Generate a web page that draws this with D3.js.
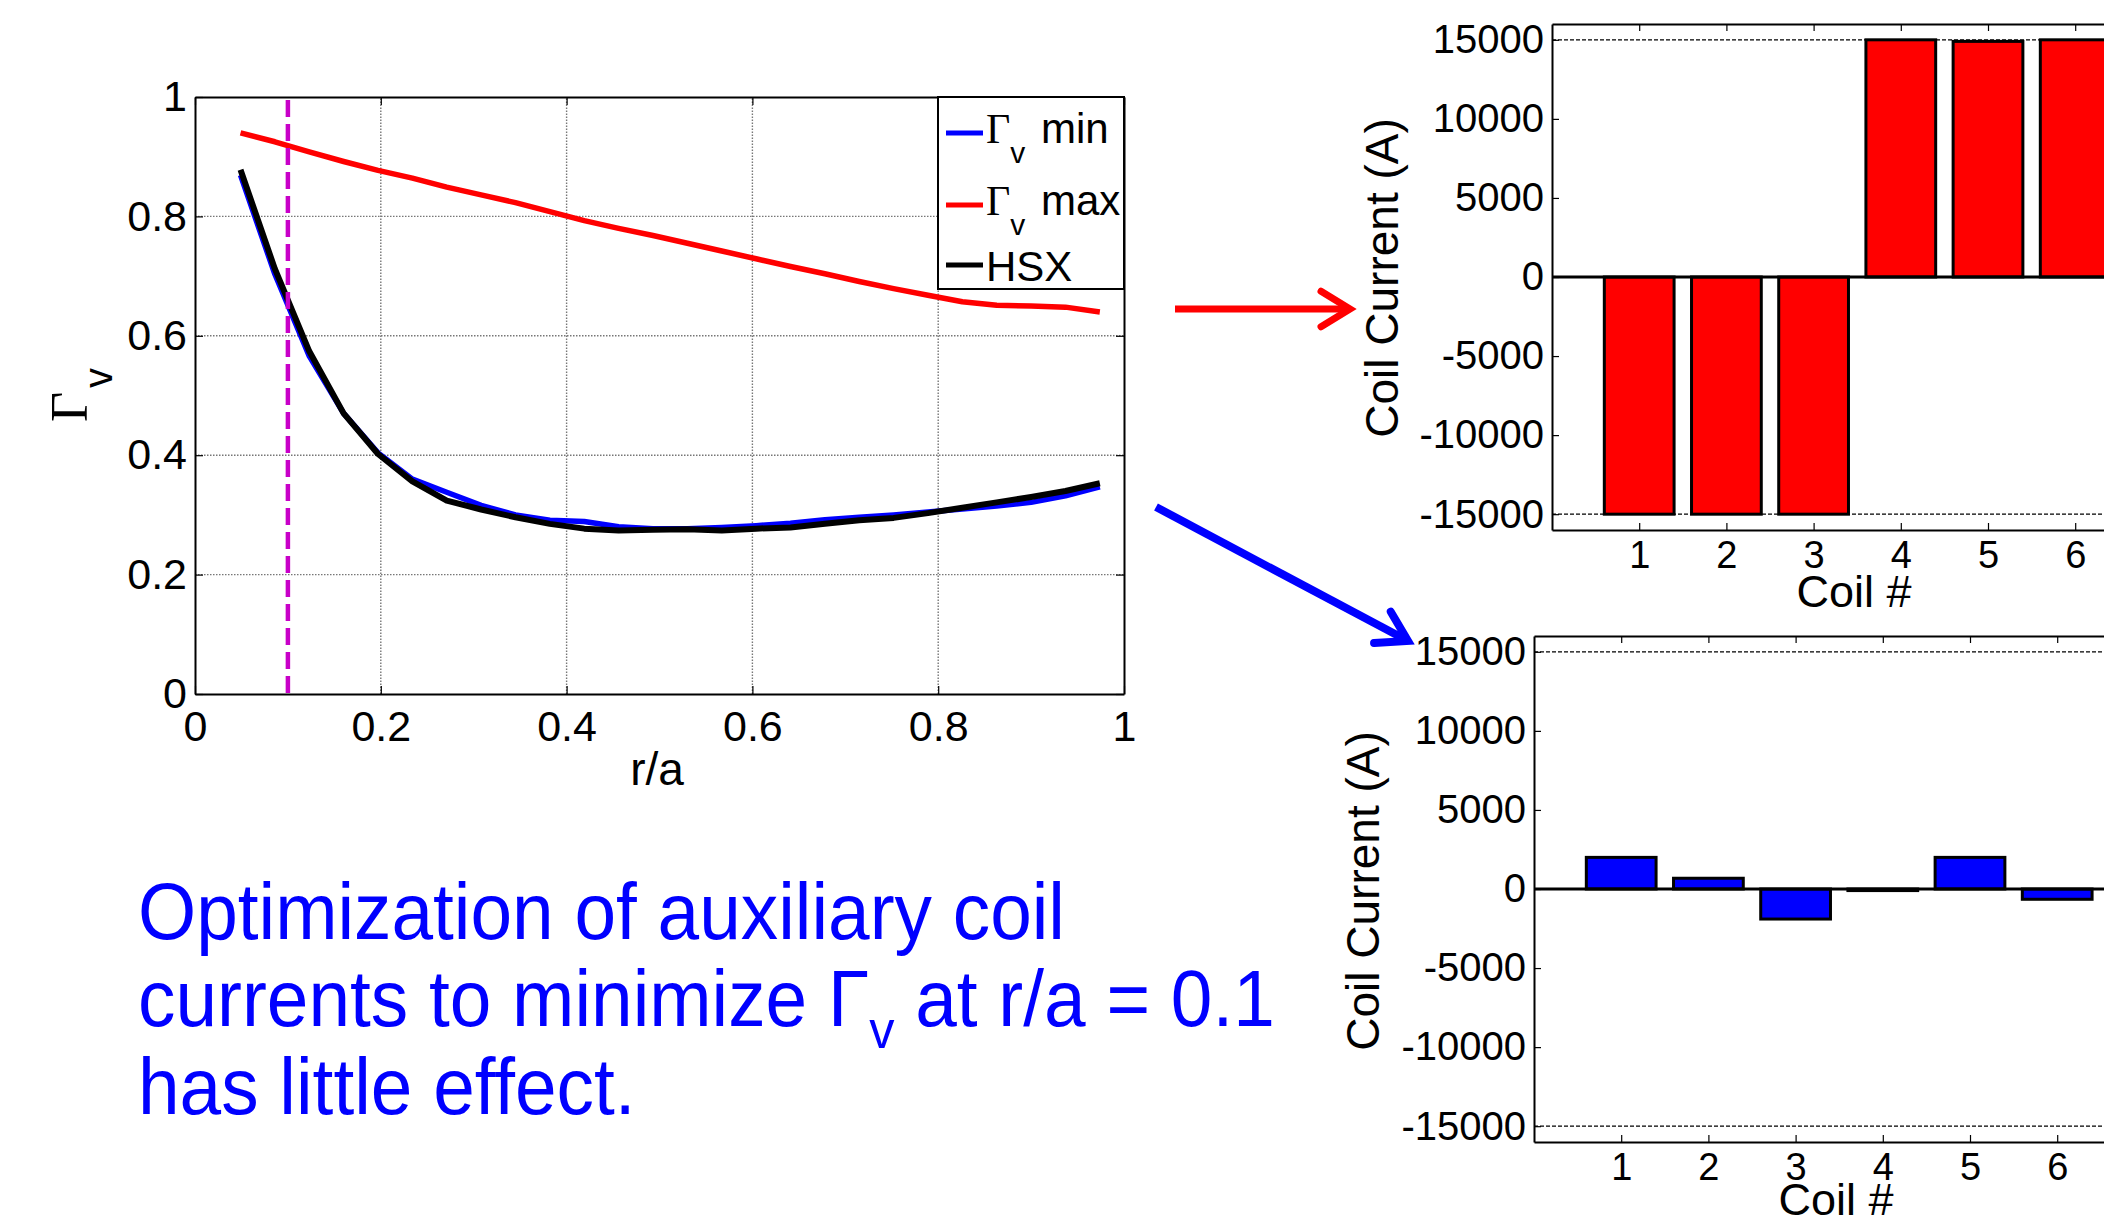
<!DOCTYPE html>
<html>
<head>
<meta charset="utf-8">
<script src="https://cdn.jsdelivr.net/npm/d3@7"></script>
<style>
  html, body { margin: 0; padding: 0; background: #fff; overflow: hidden; }
  svg { display: block; font-family: "Liberation Sans", Arial, sans-serif; }
</style>
</head>
<body>
<svg id="fig" width="2104" height="1216"></svg>
<script>
// r/a grid and Gamma_v profiles
const rOverA = [0.049, 0.086, 0.123, 0.160, 0.197, 0.234, 0.271, 0.308, 0.345, 0.382, 0.419, 0.456, 0.493,
                0.530, 0.567, 0.604, 0.641, 0.678, 0.715, 0.752, 0.789, 0.826, 0.863, 0.900, 0.937, 0.974];
const gammaMin = [0.869, 0.703, 0.566, 0.470, 0.404, 0.360, 0.338, 0.316, 0.300, 0.291, 0.289, 0.280, 0.277,
                  0.277, 0.279, 0.282, 0.286, 0.292, 0.296, 0.300, 0.305, 0.310, 0.315, 0.321, 0.332, 0.347];
const gammaMax = [0.940, 0.925, 0.908, 0.892, 0.877, 0.864, 0.849, 0.836, 0.823, 0.808, 0.793, 0.780, 0.768,
                  0.755, 0.742, 0.729, 0.716, 0.704, 0.691, 0.679, 0.668, 0.657, 0.651, 0.650, 0.648, 0.640];
const gammaHSX = [0.878, 0.712, 0.574, 0.470, 0.402, 0.356, 0.324, 0.309, 0.296, 0.285, 0.277, 0.274, 0.275,
                  0.276, 0.274, 0.277, 0.279, 0.285, 0.291, 0.295, 0.303, 0.312, 0.321, 0.330, 0.340, 0.353];
const rTicks = [0, 0.2, 0.4, 0.6, 0.8, 1];
const gammaTicks = [0, 0.2, 0.4, 0.6, 0.8, 1];
const targetR = 0.1;

// coil currents
const coils = [1, 2, 3, 4, 5, 6];
const currentsMax = [-15000, -15000, -15000, 15000, 14900, 15000];
const currentsMin = [2000, 680, -1900, -100, 2000, -650];
const currentTicks = [-15000, -10000, -5000, 0, 5000, 10000, 15000];
const currentLimit = 15000;

const svg = d3.select('#fig');

// ---------- left: Gamma_v vs r/a ----------
const x = d3.scaleLinear().domain([0, 1]).range([195, 1124]);
const y = d3.scaleLinear().domain([0, 1]).range([694, 97]);

const lp = svg.append('g');

// grid
lp.append('g').selectAll('line').data(rTicks.slice(1, -1)).join('line')
  .attr('x1', d => x(d)).attr('x2', d => x(d)).attr('y1', y(0)).attr('y2', y(1))
  .attr('stroke', '#777').attr('stroke-width', 1.4).attr('stroke-dasharray', '1.5,1.5');
lp.append('g').selectAll('line').data(gammaTicks.slice(1, -1)).join('line')
  .attr('y1', d => y(d)).attr('y2', d => y(d)).attr('x1', x(0)).attr('x2', x(1))
  .attr('stroke', '#777').attr('stroke-width', 1.4).attr('stroke-dasharray', '1.5,1.5');

// axes (ticks inside, box)
const axB = lp.append('g').attr('transform', `translate(0,${y(0)})`)
  .call(d3.axisBottom(x).tickValues(rTicks).tickFormat(d3.format('')).tickSize(-8).tickSizeOuter(0).tickPadding(16));
const axL = lp.append('g').attr('transform', `translate(${x(0)},0)`)
  .call(d3.axisLeft(y).tickValues(gammaTicks).tickFormat(d3.format('')).tickSize(-8).tickSizeOuter(0).tickPadding(8));
lp.append('g').attr('transform', `translate(0,${y(1)})`)
  .call(d3.axisTop(x).tickValues(rTicks).tickFormat('').tickSize(-8).tickSizeOuter(0));
lp.append('g').attr('transform', `translate(${x(1)},0)`)
  .call(d3.axisRight(y).tickValues(gammaTicks).tickFormat('').tickSize(-8).tickSizeOuter(0));
lp.selectAll('.domain').attr('stroke', '#000').attr('stroke-width', 2);
lp.selectAll('.tick line').attr('stroke', '#000').attr('stroke-width', 1.2);
[axB, axL].forEach(a => a.selectAll('text').attr('font-size', 43).attr('fill', '#000')
  .attr('font-family', '"Liberation Sans", Arial, sans-serif'));
axB.selectAll('text').attr('dy', '0.71em');

const line = d3.line().x((d, i) => x(rOverA[i])).y(d => y(d));
lp.append('path').datum(gammaMin).attr('d', line).attr('fill', 'none')
  .attr('stroke', '#0000ff').attr('stroke-width', 5.5).attr('stroke-linejoin', 'round');
lp.append('path').datum(gammaMax).attr('d', line).attr('fill', 'none')
  .attr('stroke', '#ff0000').attr('stroke-width', 5.5).attr('stroke-linejoin', 'round');
lp.append('path').datum(gammaHSX).attr('d', line).attr('fill', 'none')
  .attr('stroke', '#000').attr('stroke-width', 6).attr('stroke-linejoin', 'round');

lp.append('line').attr('x1', x(targetR)).attr('x2', x(targetR)).attr('y1', y(0.995)).attr('y2', y(0))
  .attr('stroke', '#c800c8').attr('stroke-width', 4.5).attr('stroke-dasharray', '17,7');

// axis labels
lp.append('text').attr('x', 657).attr('y', 785).attr('text-anchor', 'middle')
  .attr('font-size', 46).text('r/a');
const gl = lp.append('text').attr('transform', 'translate(87,422) rotate(-90)');
gl.append('tspan').attr('font-family', '"Liberation Serif", "Times New Roman", serif')
  .attr('font-size', 52).text('Γ');
gl.append('tspan').attr('font-size', 40).attr('dy', 25).attr('dx', 4).text('v');

// legend
const leg = lp.append('g');
leg.append('rect').attr('x', 938).attr('y', 97).attr('width', 186).attr('height', 192)
  .attr('fill', '#fff').attr('stroke', '#000').attr('stroke-width', 2);
const legItems = [
  {name: 'min', color: '#0000ff', ly: 133, ty: 143, greek: true},
  {name: 'max', color: '#ff0000', ly: 205, ty: 215, greek: true},
  {name: 'HSX', color: '#000', ly: 265, ty: 281, greek: false}
];
legItems.forEach(it => {
  leg.append('line').attr('x1', 946).attr('x2', 983).attr('y1', it.ly).attr('y2', it.ly)
    .attr('stroke', it.color).attr('stroke-width', 5);
  const t = leg.append('text').attr('x', 986).attr('y', it.ty).attr('font-size', 42);
  if (it.greek) {
    t.append('tspan').attr('font-family', '"Liberation Serif", "Times New Roman", serif')
      .attr('font-size', 42).text('Γ');
    t.append('tspan').attr('font-size', 30).attr('dy', 20).text('v');
    t.append('tspan').attr('x', 1041).attr('y', it.ty).text(it.name);
  } else {
    t.text(it.name);
  }
});

// ---------- right: coil current bar charts ----------
function barChart(g, x0, yTop, yBot, values, fill) {
  const bx = d3.scaleLinear().domain([0, 7]).range([x0, x0 + 7 * 87.2]);
  const by = d3.scaleLinear().domain([-16000, 16000]).range([yBot, yTop]);

  // limit lines
  g.append('g').selectAll('line').data([-currentLimit, currentLimit]).join('line')
    .attr('x1', bx(0)).attr('x2', bx(7)).attr('y1', d => by(d)).attr('y2', d => by(d))
    .attr('stroke', '#000').attr('stroke-width', 1.2).attr('stroke-dasharray', '4,2');

  const ab = g.append('g').attr('transform', `translate(0,${by(-16000)})`)
    .call(d3.axisBottom(bx).tickValues(coils).tickFormat(d3.format('d')).tickSize(-7).tickSizeOuter(0).tickPadding(11));
  const al = g.append('g').attr('transform', `translate(${bx(0)},0)`)
    .call(d3.axisLeft(by).tickValues(currentTicks).tickFormat(d3.format('d')).tickSize(-7).tickSizeOuter(0).tickPadding(8));
  g.append('g').attr('transform', `translate(0,${by(16000)})`)
    .call(d3.axisTop(bx).tickValues(coils).tickFormat('').tickSize(-7).tickSizeOuter(0));
  g.selectAll('.domain').attr('stroke', '#000').attr('stroke-width', 2);
  g.selectAll('.tick line').attr('stroke', '#000').attr('stroke-width', 1.2);
  [ab, al].forEach(a => a.selectAll('text').attr('font-size', 40).attr('fill', '#000')
    .attr('font-family', '"Liberation Sans", Arial, sans-serif'));
  ab.selectAll('text').attr('font-size', 38).attr('dy', '0.71em');
  al.selectAll('text').text(d => d3.format('d')(d).replace('−', '-'));

  const bw = 0.8;
  g.append('g').selectAll('rect').data(values).join('rect')
    .attr('x', (d, i) => bx(coils[i] - bw / 2))
    .attr('width', bx(bw) - bx(0))
    .attr('y', d => by(Math.max(0, d)))
    .attr('height', d => Math.abs(by(d) - by(0)))
    .attr('fill', fill).attr('stroke', '#000').attr('stroke-width', 3);

  g.append('line').attr('x1', bx(0)).attr('x2', bx(7)).attr('y1', by(0)).attr('y2', by(0))
    .attr('stroke', '#000').attr('stroke-width', 3);
  return {bx, by};
}

const topChart = svg.append('g');
barChart(topChart, 1552, 24, 530, currentsMax, '#ff0000');
topChart.append('text').attr('transform', 'translate(1398,278) rotate(-90)').attr('text-anchor', 'middle')
  .attr('font-size', 46).text('Coil Current (A)');
topChart.append('text').attr('x', 1854).attr('y', 607).attr('text-anchor', 'middle')
  .attr('font-size', 45).text('Coil #');

const botChart = svg.append('g');
barChart(botChart, 1534, 636, 1142, currentsMin, '#0000ff');
botChart.append('text').attr('transform', 'translate(1379,891) rotate(-90)').attr('text-anchor', 'middle')
  .attr('font-size', 46).text('Coil Current (A)');
botChart.append('text').attr('x', 1836).attr('y', 1215).attr('text-anchor', 'middle')
  .attr('font-size', 45).text('Coil #');

// ---------- arrows ----------
function arrow(x1, y1, x2, y2, color, w) {
  const ang = Math.atan2(y2 - y1, x2 - x1);
  const L = 34, spread = 0.55;
  const pts = [
    [x2 - L * Math.cos(ang - spread), y2 - L * Math.sin(ang - spread)],
    [x2, y2],
    [x2 - L * Math.cos(ang + spread), y2 - L * Math.sin(ang + spread)]
  ];
  svg.append('line').attr('x1', x1).attr('y1', y1).attr('x2', x2 - 3 * Math.cos(ang)).attr('y2', y2 - 3 * Math.sin(ang))
    .attr('stroke', color).attr('stroke-width', w);
  svg.append('path').attr('d', d3.line()(pts)).attr('fill', 'none')
    .attr('stroke', color).attr('stroke-width', w).attr('stroke-linecap', 'round').attr('stroke-linejoin', 'miter');
}
arrow(1175, 309, 1350, 309, '#ff0000', 7);
arrow(1156, 507, 1408, 641, '#0000ff', 8);

// ---------- caption ----------
const cap = svg.append('g').attr('fill', '#0000ff').attr('font-size', 80);
cap.append('text').attr('transform', 'translate(138,939) scale(0.935,1)').text('Optimization of auxiliary coil');
const l2 = cap.append('text').attr('transform', 'translate(138,1026) scale(0.935,1)');
l2.append('tspan').text('currents to minimize Γ');
l2.append('tspan').attr('font-size', 54).attr('dy', 22).text('v');
l2.append('tspan').attr('dy', -22).text(' at r/a = 0.1');
cap.append('text').attr('transform', 'translate(138,1114) scale(0.935,1)').text('has little effect.');
</script>
</body>
</html>
